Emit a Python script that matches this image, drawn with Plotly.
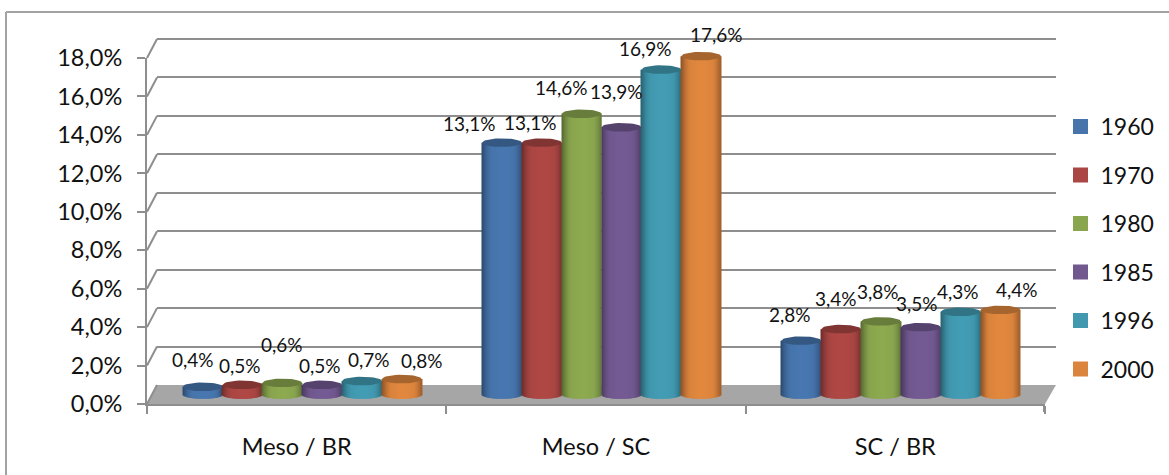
import math
import plotly.graph_objects as go

CATEGORIES = ["Meso / BR", "Meso / SC", "SC / BR"]
YEARS = ["1960", "1970", "1980", "1985", "1996", "2000"]
V1960 = [0.4, 13.1, 2.8]
V1970 = [0.5, 13.1, 3.4]
V1980 = [0.6, 14.6, 3.8]
V1985 = [0.5, 13.9, 3.5]
V1996 = [0.7, 16.9, 4.3]
V2000 = [0.8, 17.6, 4.4]
SERIES = [V1960, V1970, V1980, V1985, V1996, V2000]
Y_TICKS = [0, 2, 4, 6, 8, 10, 12, 14, 16, 18]
Y_TICK_LABELS = ["0,0%", "2,0%", "4,0%", "6,0%", "8,0%", "10,0%", "12,0%", "14,0%", "16,0%", "18,0%"]

COLORS = ["#4674AB", "#AA4643", "#89A54E", "#71588F", "#4198AF", "#DB843D"]

# Hand-placed label nudges (pixels from the centre of each column top), by year then category.
LABEL_DX = [[-10, -32, -11], [-2, -11, -5], [0, -20, -3], [-2, -5, -4], [7, -16, -3], [20, 15, 17]]
LABEL_DY = [[27, 19, 26], [19, 20, 31], [38, 26, 30], [19, 36, 24], [22, 21, 20], [19, 22, 20]]

W, H = 1169, 475
FRONT_L, FRONT_R, FRONT_B, FRONT_T = 147, 1045, 404, 58
DEPTH_X, DEPTH_Y = 10, 19
GRID = "#8e8e8e"
FONT = "Lato"


def px(x):
    return x / W


def py(y):
    return 1 - y / H


def shade(color, f):
    r, g, b = (int(color[i:i + 2], 16) for i in (1, 3, 5))
    return "rgb({},{},{})".format(*(min(255, round(c * f)) for c in (r, g, b)))


def cyl_shade(t):
    # t runs 0..1 across the column; darker towards both rims
    if t < 0.28:
        return 0.62 + (1.0 - 0.62) * math.sin(t / 0.28 * math.pi / 2)
    if t > 0.8:
        return 1.0 - 0.28 * ((t - 0.8) / 0.2) ** 1.5
    return 1.0 + 0.03 * math.sin((t - 0.28) / 0.52 * math.pi)


N_STRIPS = 40
BAR_W = 0.1331
STRIP_W = BAR_W / N_STRIPS
CAP_H = 0.225  # half height of the elliptical cap, in axis units

fig = go.Figure()

# Category axis owner: carries no visible mark
fig.add_trace(go.Scatter(x=CATEGORIES, y=[0, 0, 0], mode="none", showlegend=False,
                         hoverinfo="skip", xaxis="x", yaxis="y"))
fig.add_trace(go.Scatter(x=[None], y=[None], mode="none", showlegend=False,
                         hoverinfo="skip", xaxis="x2", yaxis="y2"))

annotations = []
for k, (year, vals, color) in enumerate(zip(YEARS, SERIES, COLORS)):
    xs, tops, bases, widths, cols = [], [], [], [], []
    cap_x, cap_y = [], []
    for i, v in enumerate(vals):
        left = i + (k - 3) * BAR_W
        for s in range(N_STRIPS):
            t = (s + 0.5) / N_STRIPS
            sag = CAP_H * math.sqrt(max(0.0, 1 - (2 * t - 1) ** 2))
            width = STRIP_W * (1.5 if s < N_STRIPS - 1 else 1.0)
            xs.append(left + s * STRIP_W + width / 2)
            widths.append(width)
            bases.append(-sag)
            tops.append(v + sag)
            cols.append(shade(color, cyl_shade(t)))
        for a in range(41):
            ang = 2 * math.pi * a / 40
            cap_x.append(left + BAR_W / 2 + BAR_W / 2 * math.cos(ang))
            cap_y.append(v + CAP_H * math.sin(ang))
        cap_x.append(None)
        cap_y.append(None)
        annotations.append(dict(
            x=left + BAR_W / 2, y=v, xref="x3", yref="y3",
            text=f"{v:.1f}".replace(".", ",") + "%",
            showarrow=False, xshift=LABEL_DX[k][i], yshift=LABEL_DY[k][i],
            xanchor="center", yanchor="middle",
            font=dict(family=FONT, size=19, color="#111111"),
        ))
    fig.add_trace(go.Bar(x=xs, y=tops, base=bases, width=widths, showlegend=False,
                         marker=dict(color=cols, line=dict(width=0)),
                         hoverinfo="skip", xaxis="x3", yaxis="y3"))
    fig.add_trace(go.Scatter(x=cap_x, y=cap_y, mode="lines", fill="toself",
                             fillcolor=shade(color, 0.76), line=dict(width=0),
                             showlegend=False, hoverinfo="skip", xaxis="x3", yaxis="y3"))

# Legend entries with plain square swatches
for k, (year, color) in enumerate(zip(YEARS, COLORS)):
    fig.add_trace(go.Scatter(x=[None], y=[None], mode="markers", name=year, legendgroup=year,
                             marker=dict(symbol="square", size=15, color=color),
                             xaxis="x", yaxis="y"))

shapes = [
    # outer chart frame, open towards the right and bottom edges
    dict(type="line", xref="paper", yref="paper", x0=px(6), x1=px(W), y0=py(12), y1=py(12),
         line=dict(color="#a3a3a3", width=2)),
    dict(type="line", xref="paper", yref="paper", x0=px(6), x1=px(6), y0=py(12), y1=py(H),
         line=dict(color="#a3a3a3", width=2)),
    # floor of the 3D box
    dict(type="path", xref="paper", yref="paper", layer="below", line=dict(width=0), fillcolor="#a6a6a6",
         path=(f"M {px(FRONT_L)} {py(FRONT_B)} L {px(FRONT_R)} {py(FRONT_B)} "
               f"L {px(FRONT_R + DEPTH_X + 1)} {py(FRONT_B - DEPTH_Y)} "
               f"L {px(FRONT_L + DEPTH_X)} {py(FRONT_B - DEPTH_Y)} Z")),
    # right edge of the floor
    dict(type="line", xref="paper", yref="paper", x0=px(FRONT_R - 1), x1=px(FRONT_R - 1),
         y0=py(FRONT_B), y1=py(FRONT_B + 8), line=dict(color=GRID, width=2)),
]
# Depth segments linking the front axis to the back wall
unit = (FRONT_B - FRONT_T) / 18
for tick in Y_TICKS:
    y = FRONT_B - tick * unit
    shapes.append(dict(type="line", xref="paper", yref="paper", x0=px(FRONT_L), y0=py(y),
                       x1=px(FRONT_L + DEPTH_X), y1=py(y - DEPTH_Y),
                       line=dict(color=GRID, width=2)))

y_dom = [py(FRONT_B), py(FRONT_T)]
fig.update_layout(
    template="none",
    width=W, height=H, margin=dict(l=0, r=0, t=0, b=0), autosize=False,
    paper_bgcolor="white", plot_bgcolor="rgba(0,0,0,0)",
    barmode="overlay", shapes=shapes, annotations=annotations,
    font=dict(family=FONT, color="#111111"),
    legend=dict(x=px(1060.5), y=py(105), xanchor="left", yanchor="top", tracegroupgap=15.6,
                font=dict(family=FONT, size=23), bgcolor="rgba(0,0,0,0)", itemclick=False),
    # front plane: visible axes
    xaxis=dict(domain=[px(FRONT_L), px(FRONT_R)], type="category", range=[-0.5, 2.5],
               categoryarray=CATEGORIES, categoryorder="array", anchor="y", showgrid=False,
               showline=True, linecolor=GRID, linewidth=2, ticks="outside", tickson="boundaries",
               ticklen=8, tickwidth=2, tickcolor=GRID, ticklabelstandoff=21,
               tickfont=dict(family=FONT, size=23.5, color="#111111")),
    yaxis=dict(domain=y_dom, range=[0, 18], anchor="x", tickmode="array", tickvals=Y_TICKS,
               ticktext=Y_TICK_LABELS,
               showgrid=False, zeroline=False, showline=True, linecolor=GRID, linewidth=2,
               ticks="outside", ticklen=8, tickwidth=2, tickcolor=GRID, ticklabelstandoff=10,
               tickfont=dict(family=FONT, size=23.5, color="#111111")),
    # back wall: carries the gridlines; one spare unit on top keeps the 18% line inside the range
    xaxis2=dict(domain=[px(FRONT_L + DEPTH_X), px(FRONT_R + DEPTH_X + 1)], range=[-0.5, 2.5], anchor="y2",
                visible=False),
    yaxis2=dict(domain=[py(FRONT_B - DEPTH_Y), py(FRONT_T - DEPTH_Y - unit)], range=[0, 19], anchor="x2",
                tickmode="array", tickvals=Y_TICKS[1:], showgrid=True, gridcolor=GRID, gridwidth=2,
                zeroline=False, showticklabels=False, ticks="", showline=False),
    # mid depth: the columns stand here; a spare unit below leaves room for the rounded feet
    xaxis3=dict(domain=[px(FRONT_L + 5.5), px(FRONT_R + 5.5)], range=[-0.5, 2.5], anchor="y3",
                visible=False),
    yaxis3=dict(domain=[py(FRONT_B - 9.5 + unit), py(FRONT_T - 9.5)], range=[-1, 18], anchor="x3",
                visible=False),
)

fig.write_html("out.html")
